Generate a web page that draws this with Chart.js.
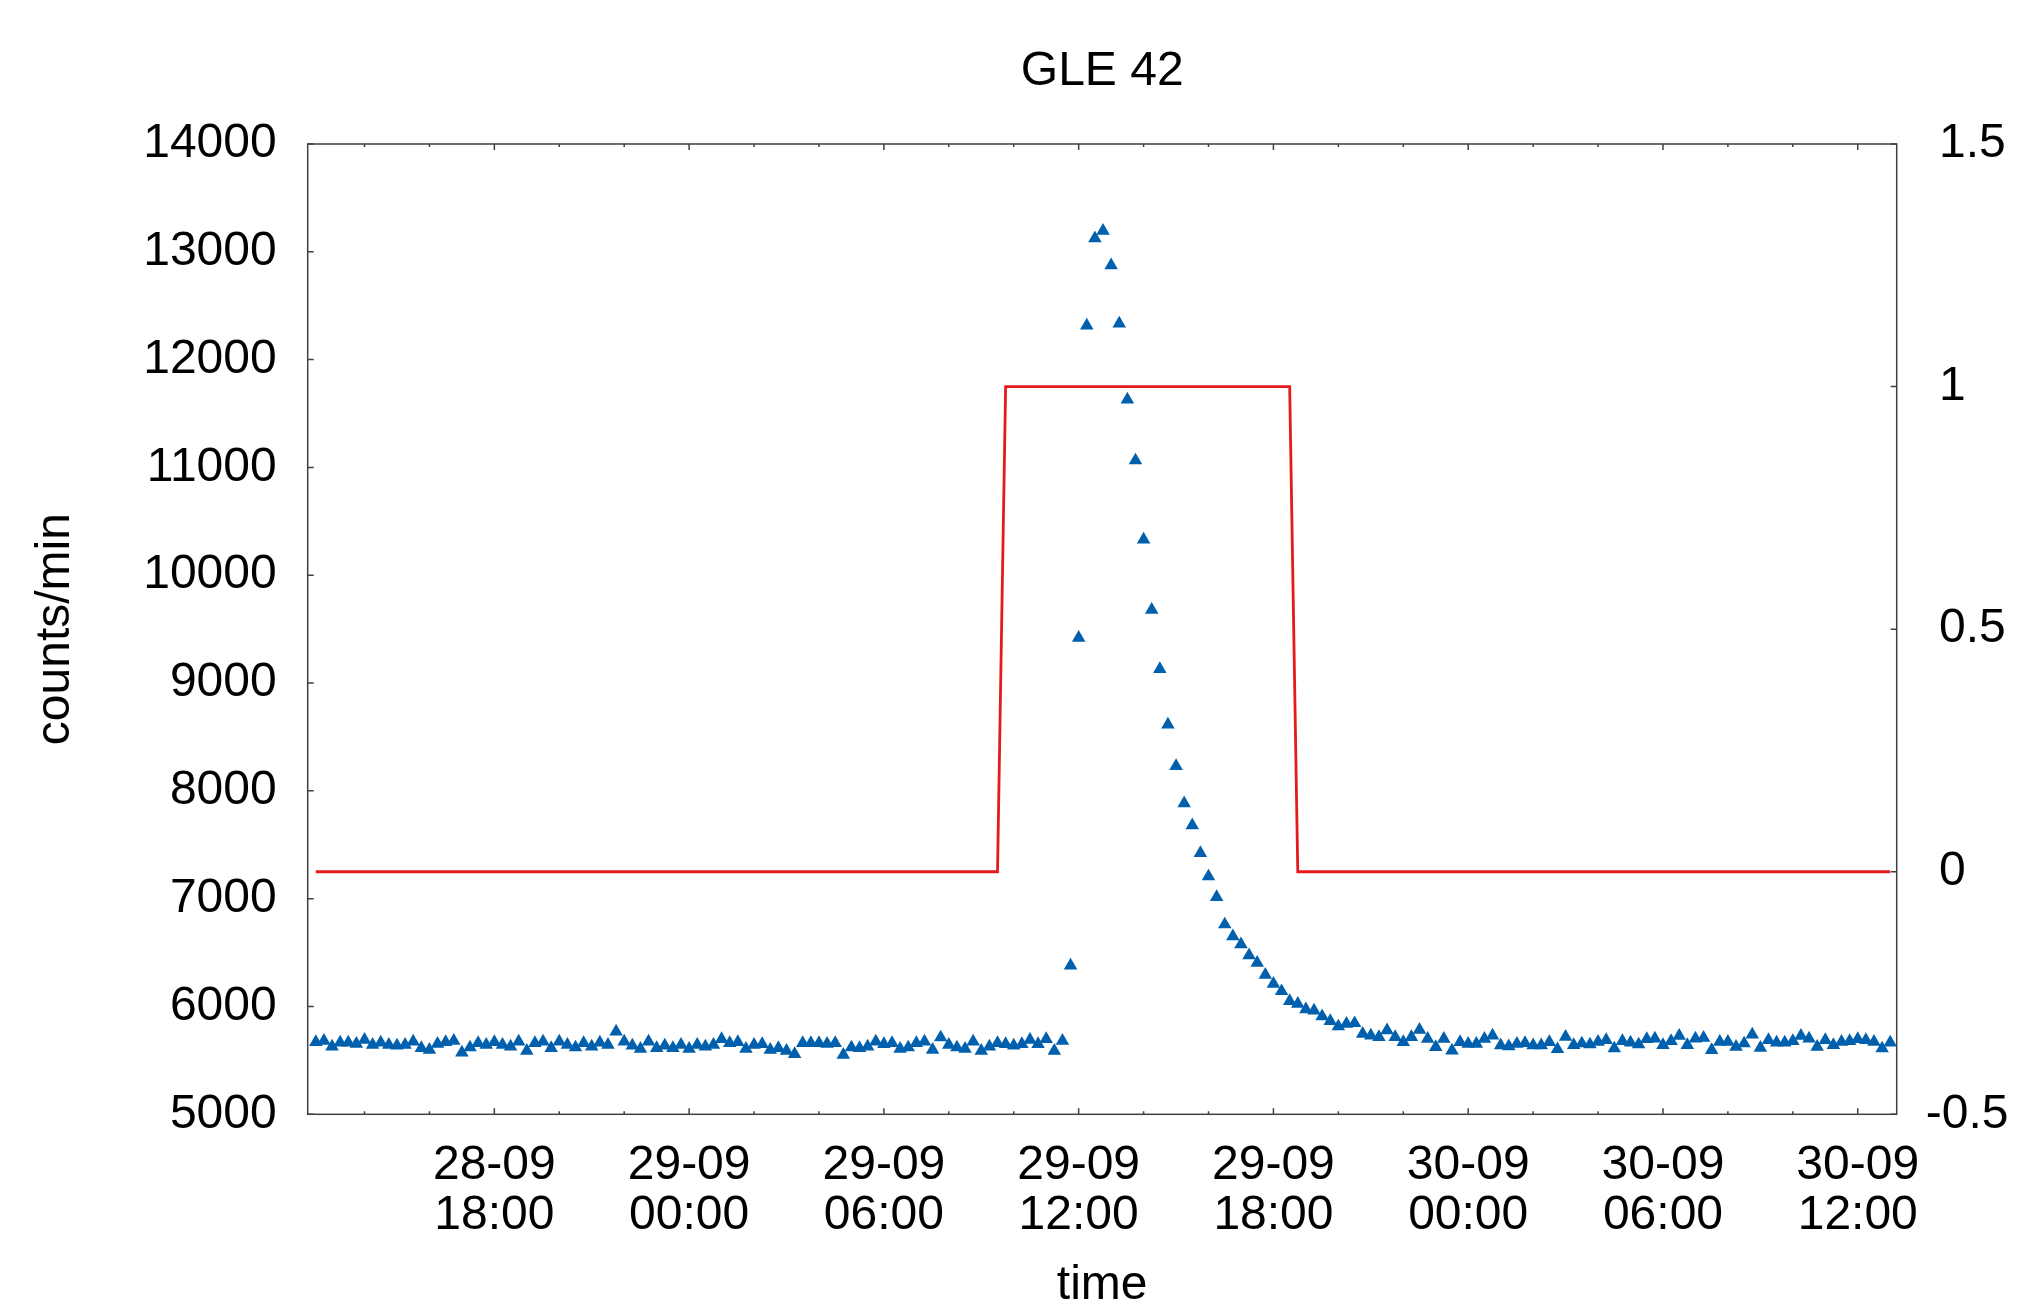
<!DOCTYPE html>
<html>
<head>
<meta charset="utf-8">
<script src="https://cdn.jsdelivr.net/npm/chart.js@4.4.1/dist/chart.umd.min.js"></script>
<style>
html,body{margin:0;padding:0;background:#fff;}
canvas{display:block;}
</style>
</head>
<body>
<canvas id="c" width="2017" height="1302"></canvas>
<script>
// Time is counted in hours from 28-09 00:00; the record starts 28-09 12:30 and has a 15-minute cadence.
const startHour = 12.5;
const stepHours = 0.25;

// Neutron monitor counts (counts/min), one value per 15 minutes
const counts = [
  5669, 5682, 5629, 5666, 5666, 5654, 5691, 5645, 5666, 5645,
  5638, 5645, 5675, 5614, 5598, 5654, 5669, 5682, 5573, 5620,
  5660, 5645, 5669, 5645, 5629, 5675, 5589, 5660, 5675, 5614,
  5675, 5645, 5620, 5660, 5629, 5666, 5645, 5768, 5675, 5638,
  5607, 5675, 5614, 5638, 5614, 5645, 5607, 5645,
  5629, 5645, 5697, 5660, 5669, 5607, 5645, 5651, 5598, 5614,
  5589, 5558, 5660, 5660, 5660, 5654, 5660, 5552, 5620, 5614,
  5629, 5675, 5651, 5660, 5607, 5620, 5660, 5675, 5598, 5713,
  5645, 5620, 5607, 5675, 5589, 5629, 5660, 5651, 5638, 5651,
  5691, 5651, 5697, 5589, 5682,
  6380, 9420, 12315, 13125, 13195, 12875, 12335, 11630, 11065, 10330,
  9680, 9130, 8615, 8230, 7885, 7680,
  7423, 7206, 7014, 6761, 6650, 6576, 6474, 6405, 6294, 6210,
  6142, 6050, 6025, 5973, 5963, 5908, 5864, 5815, 5839, 5845,
  5746, 5731, 5716, 5778, 5716, 5669, 5716, 5783, 5700, 5623,
  5700, 5592, 5669, 5653, 5653, 5700, 5731, 5639, 5630, 5653,
  5660, 5639, 5640, 5669,
  5604, 5719, 5642, 5657, 5648, 5672, 5688, 5611, 5679, 5666,
  5648, 5697, 5703, 5642, 5679, 5728, 5642, 5703, 5710, 5595,
  5672, 5672, 5626, 5657, 5740, 5617, 5688, 5666, 5666, 5679,
  5728, 5703, 5626, 5688, 5642, 5672, 5679, 5697, 5688, 5672,
  5611, 5666
];

// GLE flag (right axis): breakpoints of the step line
const flagHours  = [12.5, 33.5, 33.75, 42.5, 42.75, 61.0];
const flagValues = [0, 0, 1, 1, 0, 0];

// Axis ticks and labels
const xTickHours   = [14, 16, 18, 20, 22, 24, 26, 28, 30, 32, 34, 36, 38, 40, 42, 44, 46, 48, 50, 52, 54, 56, 58, 60];
const xMajorHours  = [18, 24, 30, 36, 42, 48, 54, 60];
const xMajorLabels = [
  ['28-09', '18:00'], ['29-09', '00:00'], ['29-09', '06:00'], ['29-09', '12:00'],
  ['29-09', '18:00'], ['30-09', '00:00'], ['30-09', '06:00'], ['30-09', '12:00']
];
const yTicks       = [5000, 6000, 7000, 8000, 9000, 10000, 11000, 12000, 13000, 14000];
const y2Ticks      = [-0.5, 0, 0.5, 1, 1.5];
const y2TickLabels = ['-0.5', ' 0', ' 0.5', ' 1', ' 1.5'];

const FONT = '"Liberation Sans", Arial, Helvetica, sans-serif';

const countPoints = counts.map((v, i) => ({ x: startHour + i * stepHours, y: v }));
const flagPoints = flagHours.map((h, i) => ({ x: h, y: flagValues[i] }));

const frameTicks = {
  id: 'frameTicks',
  beforeDatasetsDraw(chart) {
    const { ctx, chartArea: a, scales } = chart;
    ctx.save();
    ctx.strokeStyle = '#404040';
    ctx.lineWidth = 1.5;
    ctx.strokeRect(a.left, a.top, a.right - a.left, a.bottom - a.top);
    ctx.beginPath();
    scales.x.ticks.forEach(t => {
      const p = scales.x.getPixelForValue(t.value);
      const len = xMajorHours.includes(t.value) ? 6 : 3;
      ctx.moveTo(p, a.bottom); ctx.lineTo(p, a.bottom - len);
      ctx.moveTo(p, a.top); ctx.lineTo(p, a.top + len);
    });
    scales.y.ticks.forEach(t => {
      const p = scales.y.getPixelForValue(t.value);
      ctx.moveTo(a.left, p); ctx.lineTo(a.left + 6, p);
    });
    scales.y2.ticks.forEach(t => {
      const p = scales.y2.getPixelForValue(t.value);
      ctx.moveTo(a.right, p); ctx.lineTo(a.right - 6, p);
    });
    ctx.stroke();
    ctx.restore();
  }
};

new Chart(document.getElementById('c'), {
  type: 'scatter',
  data: {
    datasets: [
      {
        label: 'counts/min',
        data: countPoints,
        yAxisID: 'y',
        showLine: false,
        pointStyle: 'triangle',
        pointRadius: 7.8,
        pointBorderWidth: 0,
        backgroundColor: '#0060ad',
        borderColor: '#0060ad',
        order: 1
      },
      {
        label: 'GLE flag',
        data: flagPoints,
        yAxisID: 'y2',
        showLine: true,
        pointRadius: 0,
        borderColor: '#e41a1c',
        backgroundColor: '#e41a1c',
        borderWidth: 2.8,
        tension: 0,
        fill: false,
        order: 2
      }
    ]
  },
  options: {
    responsive: false,
    animation: false,
    events: [],
    layout: { padding: 0 },
    plugins: {
      legend: { display: false },
      tooltip: { enabled: false },
      title: {
        display: true,
        text: 'GLE 42',
        fullSize: false,
        color: '#000',
        font: { family: FONT, size: 48, weight: 'normal', lineHeight: 1 },
        padding: { top: 47.5, bottom: 48.5 }
      }
    },
    scales: {
      x: {
        type: 'linear',
        position: 'bottom',
        min: 12.25,
        max: 61.2,
        afterBuildTicks: s => { s.ticks = xTickHours.map(v => ({ value: v })); },
        afterFit: s => { s.height = 187.7; },
        grid: { display: false, drawTicks: false },
        border: { display: false },
        ticks: {
          autoSkip: false,
          maxRotation: 0,
          minRotation: 0,
          padding: 27,
          color: '#000',
          font: { family: FONT, size: 48, lineHeight: 1.03 },
          callback: v => {
            const k = xMajorHours.indexOf(v);
            return k >= 0 ? xMajorLabels[k] : '';
          }
        },
        title: {
          display: true,
          text: 'time',
          color: '#000',
          font: { family: FONT, size: 48, lineHeight: 1 },
          padding: { top: 0, bottom: -8 }
        }
      },
      y: {
        type: 'linear',
        position: 'left',
        min: 5000,
        max: 14000,
        afterBuildTicks: s => { s.ticks = yTicks.map(v => ({ value: v })); },
        afterFit: s => { s.width = 307.7; },
        grid: { display: false, drawTicks: false },
        border: { display: false },
        ticks: {
          padding: 31,
          color: '#000',
          font: { family: FONT, size: 48, lineHeight: 1 },
          callback: v => String(v)
        },
        title: {
          display: true,
          text: 'counts/min',
          color: '#000',
          font: { family: FONT, size: 48, lineHeight: 1 },
          padding: { top: 32, bottom: 0 }
        }
      },
      y2: {
        type: 'linear',
        position: 'right',
        min: -0.5,
        max: 1.5,
        afterBuildTicks: s => { s.ticks = y2Ticks.map(v => ({ value: v })); },
        afterFit: s => { s.width = 120.3; },
        grid: { display: false, drawTicks: false },
        border: { display: false },
        ticks: {
          padding: 29,
          color: '#000',
          font: { family: FONT, size: 48, lineHeight: 1 },
          callback: v => {
            const k = y2Ticks.indexOf(v);
            return k >= 0 ? y2TickLabels[k] : '';
          }
        }
      }
    }
  },
  plugins: [frameTicks]
});
</script>
</body>
</html>
